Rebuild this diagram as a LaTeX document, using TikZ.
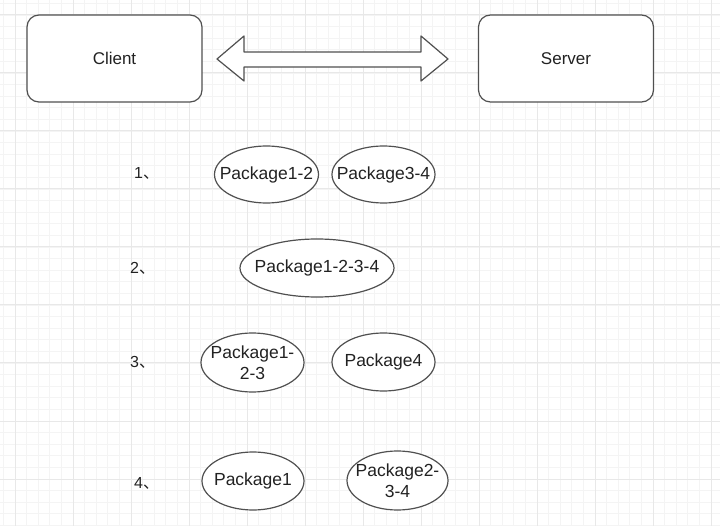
\documentclass[tikz,border=0pt]{standalone}
\usepackage{fontspec}
\setmainfont{Liberation Sans}
\newfontfamily\cjk{Noto Sans CJK SC}
\usetikzlibrary{shapes.geometric}
\definecolor{gridminor}{HTML}{F4F4F4}
\definecolor{gridmajor}{HTML}{E8E8E8}
\definecolor{strokec}{HTML}{505050}
\definecolor{textc}{HTML}{222222}
\begin{document}
\begin{tikzpicture}[x=1pt,y=-1pt,
  box/.style={draw=strokec,line width=1.2pt,rounded corners=12pt,fill=white,
    minimum width=175pt,minimum height=87pt,inner sep=0pt,font=\fontsize{17}{20}\selectfont,text=textc},
  pkg/.style={ellipse,draw=strokec,line width=1.2pt,fill=white,inner sep=0pt,
    minimum width=103pt,minimum height=58pt},
  pkgtext/.style={inner sep=0pt,font=\fontsize{17.5}{21}\selectfont,text=textc,align=center},
  numlab/.style={font=\fontsize{16}{19}\selectfont,text=textc,anchor=west,inner sep=0pt}]
\useasboundingbox (0,0) rectangle (720,526);
\fill[white] (0,0) rectangle (720,526);
% grid
\foreach \i in {-1,...,61}{
  \pgfmathsetmacro{\p}{15+11.6*\i}
  \draw[gridminor,line width=0.8pt] (\p,0) -- (\p,526);
  \draw[gridminor,line width=0.8pt] (0,\p) -- (720,\p);
}
\foreach \i in {0,...,12}{
  \pgfmathsetmacro{\p}{15+58*\i}
  \draw[gridmajor,line width=1pt] (\p,0) -- (\p,526);
  \draw[gridmajor,line width=1pt] (0,\p) -- (720,\p);
}
% boxes
\node[box] (client) at (114.5,58.5) {Client};
\node[box] (server) at (566,58.5) {Server};
% double arrow
\coordinate (al) at (217,59);
\coordinate (ar) at (448,59);
\draw[strokec,line width=1.2pt,fill=white,line join=round]
  (al) -- (244,36) -- (244,52) -- (421,52) -- (421,36) -- (ar)
  -- (421,81) -- (421,67) -- (244,67) -- (244,81) -- cycle;
% row labels
\node[numlab] (n1) at (134,173) {1\cjk{、}};
\node[numlab] (n2) at (130,268) {2\cjk{、}};
\node[numlab] (n3) at (130,362) {3\cjk{、}};
\node[numlab] (n4) at (134,483) {4\cjk{、}};
% packages
\node[pkg,minimum width=104pt,minimum height=57pt] (p12) at (266.5,174.5) {};
\node[pkgtext] (t12) at (p12) {Package1-2};
\node[pkg,minimum width=103pt,minimum height=57pt] (p34) at (383.5,174.5) {};
\node[pkgtext] (t34) at (p34) {Package3-4};
\node[pkg,minimum width=154pt,minimum height=58pt] (p1234) at (317,268) {};
\node[pkgtext] (t1234) at (p1234) {Package1-2-3-4};
\node[pkg,minimum width=103pt,minimum height=59pt] (p123) at (252.5,362.5) {};
\node[pkgtext] (t123) at (p123) {Package1-\\2-3};
\node[pkg,minimum width=103pt,minimum height=58pt] (p4) at (383.5,362) {};
\node[pkgtext] (t4) at (p4) {Package4};
\node[pkg,minimum width=102pt,minimum height=58pt] (p1) at (253,481) {};
\node[pkgtext] (t1) at (p1) {Package1};
\node[pkg,minimum width=101pt,minimum height=59pt] (p234) at (397.5,480.5) {};
\node[pkgtext] (t234) at (p234) {Package2-\\3-4};
\end{tikzpicture}
\end{document}
